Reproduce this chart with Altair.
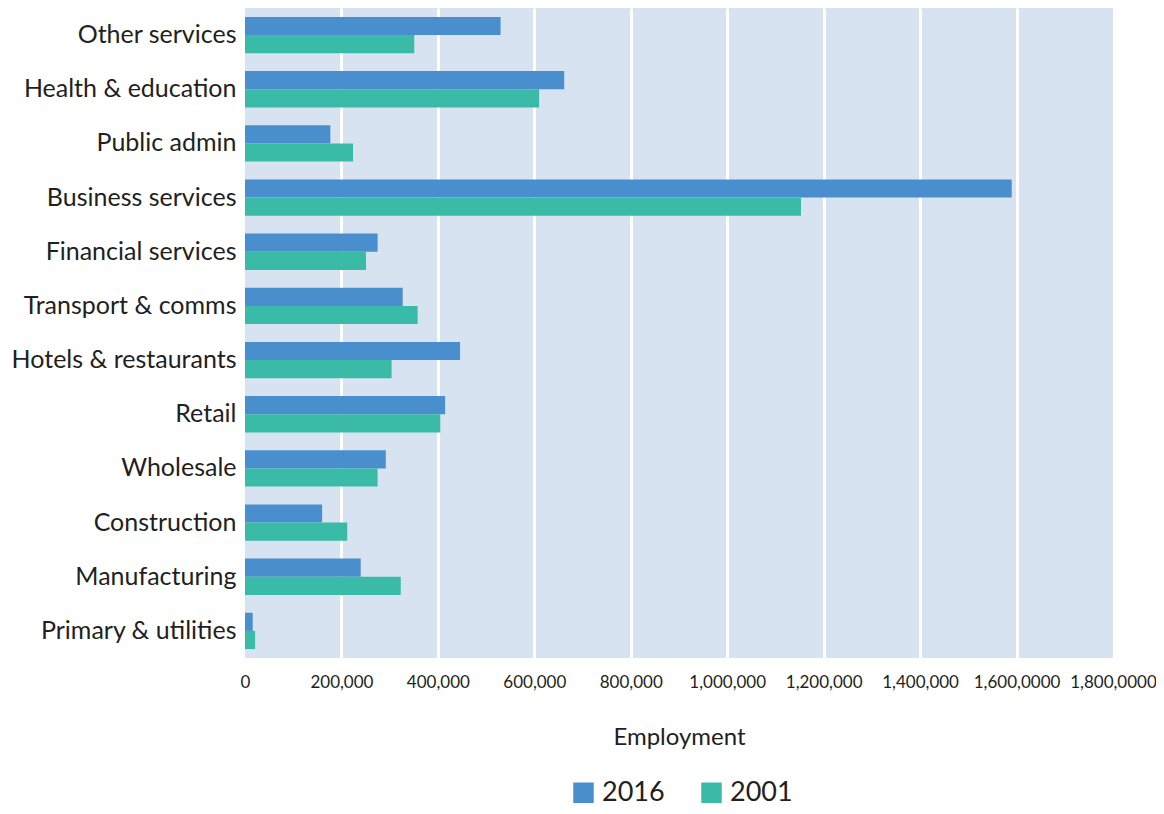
import altair as alt
import pandas as pd

categories = ["Other services", "Health & education", "Public admin", "Business services",
              "Financial services", "Transport & comms", "Hotels & restaurants", "Retail",
              "Wholesale", "Construction", "Manufacturing", "Primary & utilities"]
values_2016 = [530000, 662000, 177000, 1590000, 275000, 327000, 446000, 415000, 292000, 160000, 240000, 16000]
values_2001 = [351000, 610000, 224000, 1153000, 251000, 358000, 304000, 405000, 275000, 212000, 323000, 21000]
years = ["2016", "2001"]
tick_values = [0, 200000, 400000, 600000, 800000, 1000000, 1200000, 1400000, 1600000, 1800000]
tick_labels = ["0", "200,000", "400,000", "600,000", "800,000", "1,000,000", "1,200,000",
               "1,400,000", "1,600,0000", "1,800,0000"]

rows = []
for c, a, b in zip(categories, values_2016, values_2001):
    rows.append({"category": c, "year": years[0], "value": a})
    rows.append({"category": c, "year": years[1], "value": b})
df = pd.DataFrame(rows)

label_expr = " : ".join(
    f"datum.value == {v} ? '{l}'" for v, l in zip(tick_values, tick_labels)
) + " : ''"

FONT = "Lato"

chart = alt.Chart(df).mark_bar().encode(
    x=alt.X("value:Q",
            scale=alt.Scale(domain=[0, 1800000], nice=False),
            axis=alt.Axis(values=tick_values, labelExpr=label_expr, title="Employment",
                          grid=True,
                          gridColor={"condition": {"test": "datum.value == 0 || datum.value == 1800000", "value": "transparent"}, "value": "white"},
                          gridWidth=3, domain=False, ticks=False,
                          labelFontSize=17, labelColor="#231f20", labelPadding=16,
                          labelOverlap=False, labelBound=False, labelFlush=False,
                          titleFontSize=24, titleFontWeight="normal", titleColor="#231f20",
                          titlePadding=35, labelFont=FONT, titleFont=FONT, labelLimit=0)),
    y=alt.Y("category:N", sort=categories,
            scale=alt.Scale(paddingInner=0.33, paddingOuter=0.165),
            axis=alt.Axis(title=None, domain=False, ticks=False, grid=False,
                          labelFontSize=25, labelColor="#231f20", labelPadding=9,
                          labelFont=FONT, labelLimit=0)),
    yOffset=alt.YOffset("year:N", sort=years),
    color=alt.Color("year:N", sort=years,
                    scale=alt.Scale(domain=years, range=["#4A8FCD", "#3ABBA7"]),
                    legend=alt.Legend(title=None, orient="none", legendX=325, legendY=771,
                                      direction="horizontal", symbolType="square",
                                      symbolSize=420, symbolStrokeWidth=0,
                                      labelFontSize=27, labelFont=FONT, labelColor="#231f20",
                                      columnPadding=33, symbolOpacity=1, labelOffset=5)),
).properties(
    width=868, height=650,
    autosize=alt.AutoSizeParams(type="none"),
    padding={"left": 237, "top": 0, "right": 43, "bottom": 148},
    background="white",
).configure_view(
    fill="#D8E3F2", stroke=None
)

chart.save("out.html", embed_options={"renderer": "svg", "actions": False})
